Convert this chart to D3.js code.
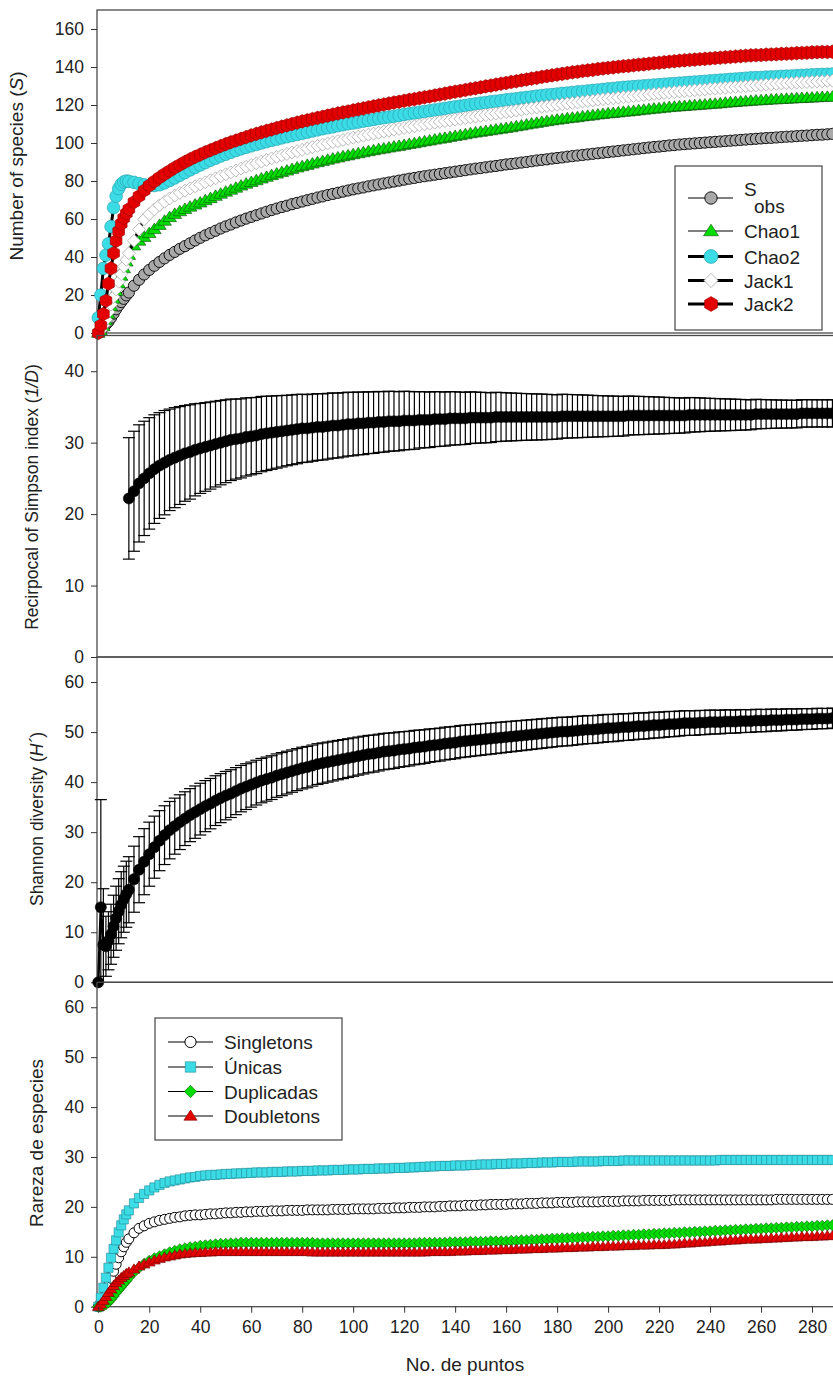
<!DOCTYPE html>
<html lang="es">
<head>
  <meta charset="UTF-8">
  <title>Curvas de acumulación y rareza de especies</title>
  <script src="https://d3js.org/d3.v7.min.js"></script>
  <style>
    body {
      margin: 0;
      background: #ffffff;
    }

    svg {
      display: block;
      font-family: 'Liberation Sans', Arial, sans-serif;
    }
  </style>
</head>
<body>
  <svg id="chart" width="833" height="1380"></svg>

  <script>
    // sample number (x) shared by every series
    const samples = [0, 1, 2, 3, 4, 5, 6, 7, 8, 9, 10, 11, 12,
      14, 16, 18, 20, 22, 24, 26, 28, 30, 32,
      34, 36, 38, 40, 42, 44, 46, 48, 50, 52,
      54, 56, 58, 60, 62, 64, 66, 68, 70, 72,
      74, 76, 78, 80, 82, 84, 86, 88, 90, 92,
      94, 96, 98, 100, 102, 104, 106, 108, 110, 112,
      114, 116, 118, 120, 122, 124, 126, 128, 130, 132,
      134, 136, 138, 140, 142, 144, 146, 148, 150, 152,
      154, 156, 158, 160, 162, 164, 166, 168, 170, 172,
      174, 176, 178, 180, 182, 184, 186, 188, 190, 192,
      194, 196, 198, 200, 202, 204, 206, 208, 210, 212,
      214, 216, 218, 220, 222, 224, 226, 228, 230, 232,
      234, 236, 238, 240, 242, 244, 246, 248, 250, 252,
      254, 256, 258, 260, 262, 264, 266, 268, 270, 272,
      274, 276, 278, 280, 282, 284, 286, 288];

    // panel 1: richness estimators
    const sObs = [0, 1.5, 3, 4.5, 6, 8, 10.2, 12.5, 14.5, 16.3, 18, 19.8, 21.3,
      24.9, 28, 30.8, 33.2, 35.4, 37.4, 39.3, 41.1, 42.7, 44.3,
      45.7, 47.2, 48.7, 50.1, 51.4, 52.6, 53.8, 55, 56.1, 57.1,
      58.2, 59.2, 60.2, 61.1, 62, 62.9, 63.8, 64.7, 65.5, 66.3,
      67, 67.8, 68.5, 69.2, 69.9, 70.6, 71.3, 71.9, 72.6, 73.2,
      73.8, 74.4, 75, 75.6, 76.1, 76.6, 77.2, 77.7, 78.2, 78.7,
      79.2, 79.7, 80.2, 80.7, 81.2, 81.6, 82.1, 82.5, 82.9, 83.3,
      83.7, 84.1, 84.5, 84.9, 85.3, 85.7, 86.1, 86.5, 86.8, 87.2,
      87.6, 87.9, 88.3, 88.7, 89, 89.3, 89.7, 90, 90.4, 90.8,
      91.1, 91.4, 91.8, 92.1, 92.4, 92.8, 93.1, 93.4, 93.7, 94,
      94.3, 94.6, 94.9, 95.2, 95.5, 95.8, 96.1, 96.4, 96.7, 97,
      97.3, 97.6, 97.9, 98.1, 98.4, 98.7, 98.9, 99.2, 99.4, 99.6,
      99.8, 100, 100.2, 100.4, 100.6, 100.8, 101, 101.2, 101.4, 101.6,
      101.8, 102, 102.2, 102.4, 102.6, 102.7, 102.9, 103.1, 103.3, 103.4,
      103.6, 103.8, 103.9, 104.1, 104.3, 104.4, 104.6, 104.8];
    const chao1 = [0, 1, 3.5, 6.5, 10, 14, 18, 22, 26, 30, 34, 37.5, 41,
      46, 48.5, 50.5, 52.5, 54.6, 56.8, 59, 60.9, 62.6, 64,
      65.2, 66.4, 67.5, 68.6, 69.8, 70.9, 72.1, 73.2, 74.3, 75.3,
      76.4, 77.5, 78.5, 79.4, 80.3, 81.2, 82.1, 83, 83.8, 84.6,
      85.4, 86.2, 87, 87.7, 88.4, 89.1, 89.8, 90.4, 91.1, 91.7,
      92.3, 92.9, 93.4, 94, 94.5, 95, 95.6, 96.1, 96.6, 97,
      97.5, 98, 98.4, 98.9, 99.4, 99.8, 100.3, 100.8, 101.2, 101.7,
      102.2, 102.6, 103.1, 103.6, 104, 104.5, 105, 105.4, 105.8, 106.2,
      106.6, 107, 107.4, 107.8, 108.2, 108.7, 109.1, 109.6, 110.1, 110.5,
      111, 111.4, 111.8, 112.2, 112.5, 112.9, 113.2, 113.5, 113.9, 114.2,
      114.5, 114.9, 115.2, 115.5, 115.7, 116, 116.3, 116.5, 116.8, 117.1,
      117.4, 117.7, 118, 118.2, 118.5, 118.8, 119, 119.2, 119.4, 119.6,
      119.8, 120, 120.2, 120.4, 120.6, 120.8, 121.1, 121.3, 121.5, 121.7,
      121.9, 122.1, 122.3, 122.4, 122.6, 122.8, 122.9, 123.1, 123.2, 123.3,
      123.5, 123.6, 123.7, 123.8, 124, 124.1, 124.2, 124.3];
    const chao2 = [8, 20, 34, 41, 47, 56, 66, 72, 76, 78.3, 79.5, 80, 79.8,
      79.3, 78.6, 78, 77.7, 77.6, 78, 79, 80.3, 81.6, 83,
      84.4, 85.8, 87.1, 88.4, 89.7, 90.9, 92, 93.1, 94.1, 95.1,
      96, 96.9, 97.7, 98.5, 99.2, 100, 100.7, 101.4, 102, 102.7,
      103.3, 103.9, 104.5, 105.1, 105.7, 106.3, 106.9, 107.5, 108, 108.5,
      109.1, 109.6, 110.1, 110.5, 111, 111.5, 111.9, 112.4, 112.9, 113.3,
      113.7, 114.1, 114.5, 115, 115.4, 115.8, 116.2, 116.6, 117, 117.4,
      117.8, 118.2, 118.6, 119, 119.4, 119.8, 120.2, 120.6, 121, 121.3,
      121.7, 122, 122.3, 122.7, 123, 123.3, 123.7, 124, 124.3, 124.7,
      125, 125.3, 125.5, 125.8, 126.1, 126.3, 126.6, 126.9, 127.1, 127.4,
      127.7, 127.9, 128.2, 128.5, 128.7, 129, 129.3, 129.5, 129.7, 129.9,
      130.1, 130.3, 130.5, 130.7, 130.9, 131.1, 131.3, 131.5, 131.7, 131.9,
      132.1, 132.3, 132.5, 132.7, 132.9, 133.1, 133.3, 133.5, 133.7, 133.9,
      134.1, 134.3, 134.4, 134.5, 134.7, 134.8, 134.9, 135.1, 135.2, 135.3,
      135.5, 135.6, 135.7, 135.9, 136, 136.1, 136.2, 136.3];
    const jack1 = [0, 1.5, 4, 7, 11, 15, 19, 23, 27, 31, 35, 38.5, 42,
      48.5, 54.5, 59.8, 62.6, 65, 67.2, 69.1, 70.8, 72.3, 73.7,
      74.9, 76.1, 77.2, 78.2, 79.3, 80.4, 81.4, 82.5, 83.5, 84.5,
      85.5, 86.5, 87.5, 88.4, 89.3, 90.2, 91.1, 91.9, 92.7, 93.5,
      94.2, 95, 95.7, 96.4, 97.1, 97.8, 98.5, 99.1, 99.8, 100.4,
      101, 101.6, 102.2, 102.8, 103.3, 103.8, 104.4, 104.9, 105.4, 106,
      106.5, 107, 107.4, 107.9, 108.4, 108.8, 109.3, 109.8, 110.2, 110.7,
      111.1, 111.5, 111.9, 112.3, 112.7, 113.1, 113.5, 113.9, 114.3, 114.7,
      115.1, 115.5, 115.9, 116.3, 116.7, 117.1, 117.5, 117.9, 118.3, 118.7,
      119.1, 119.4, 119.8, 120.1, 120.4, 120.8, 121.1, 121.4, 121.8, 122.1,
      122.4, 122.8, 123.1, 123.4, 123.6, 123.9, 124.2, 124.4, 124.7, 125,
      125.2, 125.5, 125.8, 126, 126.3, 126.6, 126.8, 127.1, 127.3, 127.5,
      127.8, 128, 128.2, 128.5, 128.7, 128.9, 129.1, 129.3, 129.5, 129.7,
      129.9, 130.1, 130.3, 130.5, 130.7, 130.9, 131.1, 131.3, 131.4, 131.6,
      131.8, 131.9, 132.1, 132.2, 132.4, 132.5, 132.7, 132.8];
    const jack2 = [0, 4, 10, 17, 26, 34, 42, 48.5, 53.5, 57.5, 60.5, 63, 65.2,
      68.9, 72, 75, 77.6, 79.8, 81.8, 83.6, 85.3, 87, 88.5,
      90, 91.4, 92.7, 93.9, 95.1, 96.2, 97.3, 98.4, 99.4, 100.4,
      101.3, 102.2, 103.1, 104, 104.8, 105.6, 106.4, 107.1, 107.9, 108.6,
      109.3, 110, 110.7, 111.4, 112, 112.6, 113.2, 113.8, 114.4, 115,
      115.6, 116.1, 116.6, 117.2, 117.7, 118.2, 118.8, 119.3, 119.8, 120.3,
      120.8, 121.3, 121.7, 122.2, 122.7, 123.1, 123.6, 124.1, 124.5, 125,
      125.5, 126, 126.5, 127, 127.4, 127.9, 128.4, 128.8, 129.3, 129.8,
      130.2, 130.7, 131.2, 131.6, 132.1, 132.5, 133, 133.4, 133.9, 134.3,
      134.8, 135.2, 135.6, 136, 136.4, 136.8, 137.2, 137.5, 137.9, 138.2,
      138.5, 138.9, 139.2, 139.5, 139.8, 140.1, 140.4, 140.6, 140.9, 141.2,
      141.4, 141.7, 142, 142.2, 142.5, 142.8, 143, 143.3, 143.5, 143.7,
      143.9, 144.1, 144.3, 144.5, 144.7, 144.9, 145.1, 145.3, 145.5, 145.7,
      145.9, 146.1, 146.2, 146.3, 146.5, 146.6, 146.7, 146.9, 147, 147.1,
      147.3, 147.4, 147.5, 147.7, 147.8, 147.9, 147.9, 148];

    // panel 2: reciprocal of Simpson (mean and SD)
    const simpsonMean = [null, null, null, null, null, null, null, null, null, null, null, null, 22.2,
      23.2, 24.3, 25, 25.7, 26.3, 26.8, 27.2, 27.6, 27.9, 28.2,
      28.5, 28.7, 29, 29.2, 29.4, 29.6, 29.8, 30, 30.2, 30.4,
      30.5, 30.6, 30.8, 30.9, 31, 31.2, 31.3, 31.4, 31.5, 31.6,
      31.7, 31.8, 31.9, 32, 32, 32.1, 32.2, 32.2, 32.3, 32.4,
      32.4, 32.5, 32.6, 32.6, 32.7, 32.7, 32.8, 32.8, 32.9, 32.9,
      33, 33, 33, 33.1, 33.1, 33.1, 33.2, 33.2, 33.2, 33.3,
      33.3, 33.3, 33.4, 33.4, 33.4, 33.4, 33.5, 33.5, 33.5, 33.5,
      33.5, 33.6, 33.6, 33.6, 33.6, 33.6, 33.6, 33.6, 33.6, 33.6,
      33.6, 33.6, 33.6, 33.6, 33.7, 33.7, 33.7, 33.7, 33.7, 33.7,
      33.7, 33.7, 33.7, 33.7, 33.7, 33.7, 33.7, 33.8, 33.8, 33.8,
      33.8, 33.8, 33.8, 33.8, 33.8, 33.8, 33.8, 33.8, 33.8, 33.9,
      33.9, 33.9, 33.9, 33.9, 33.9, 33.9, 33.9, 33.9, 33.9, 33.9,
      33.9, 33.9, 34, 34, 34, 34, 34, 34, 34, 34,
      34, 34.1, 34.1, 34.1, 34.1, 34.1, 34.1, 34.1];
    const simpsonSd = [null, null, null, null, null, null, null, null, null, null, null, null, 8.5,
      8.4, 8.2, 8, 7.8, 7.6, 7.4, 7.3, 7.1, 7, 6.85,
      6.7, 6.6, 6.45, 6.3, 6.2, 6.1, 6, 5.9, 5.8, 5.7,
      5.6, 5.53, 5.47, 5.4, 5.33, 5.27, 5.2, 5.13, 5.07, 5,
      4.93, 4.88, 4.85, 4.78, 4.73, 4.7, 4.67, 4.63, 4.6, 4.57,
      4.53, 4.5, 4.47, 4.43, 4.4, 4.37, 4.33, 4.3, 4.27, 4.23,
      4.2, 4.17, 4.13, 4.1, 4.07, 4.02, 3.95, 3.92, 3.88, 3.85,
      3.82, 3.78, 3.75, 3.72, 3.68, 3.65, 3.62, 3.58, 3.55, 3.52,
      3.48, 3.45, 3.42, 3.38, 3.35, 3.32, 3.29, 3.27, 3.24, 3.22,
      3.2, 3.17, 3.13, 3.1, 3.08, 3.05, 3.03, 3.01, 2.98, 2.95,
      2.92, 2.89, 2.87, 2.84, 2.82, 2.8, 2.77, 2.73, 2.7, 2.68,
      2.66, 2.63, 2.61, 2.58, 2.55, 2.52, 2.49, 2.47, 2.44, 2.42,
      2.4, 2.37, 2.33, 2.3, 2.28, 2.25, 2.23, 2.21, 2.18, 2.15,
      2.12, 2.09, 2.07, 2.04, 2.02, 2, 1.98, 1.96, 1.95, 1.94,
      1.93, 1.92, 1.91, 1.91, 1.9, 1.9, 1.9, 1.9];

    // panel 3: Shannon diversity (mean and SD)
    const shannonMean = [0, 15, 7.5, 7.2, 8.3, 9.6, 11.2, 12.8, 14.2, 15.5, 16.6, 17.6, 18.5,
      20.6, 22.5, 24.1, 25.6, 27, 28.3, 29.4, 30.4, 31.2, 32,
      32.7, 33.4, 34, 34.6, 35.2, 35.7, 36.3, 36.8, 37.3, 37.7,
      38.2, 38.7, 39.1, 39.5, 39.9, 40.3, 40.6, 40.9, 41.3, 41.6,
      41.9, 42.2, 42.5, 42.8, 43, 43.3, 43.6, 43.8, 44, 44.2,
      44.4, 44.6, 44.8, 45, 45.2, 45.4, 45.6, 45.7, 45.9, 46.1,
      46.2, 46.3, 46.5, 46.6, 46.7, 46.9, 47, 47.1, 47.3, 47.4,
      47.5, 47.7, 47.8, 47.9, 48.1, 48.2, 48.3, 48.4, 48.5, 48.6,
      48.7, 48.8, 48.9, 49, 49.1, 49.2, 49.3, 49.4, 49.5, 49.6,
      49.7, 49.8, 49.9, 50, 50.1, 50.1, 50.2, 50.3, 50.4, 50.5,
      50.5, 50.6, 50.7, 50.8, 50.8, 50.9, 51, 51, 51.1, 51.2,
      51.2, 51.3, 51.4, 51.4, 51.5, 51.6, 51.6, 51.7, 51.8, 51.8,
      51.8, 51.9, 51.9, 52, 52, 52, 52.1, 52.1, 52.1, 52.2,
      52.2, 52.2, 52.3, 52.3, 52.3, 52.4, 52.4, 52.4, 52.5, 52.5,
      52.5, 52.6, 52.6, 52.6, 52.7, 52.7, 52.7, 52.8];
    const shannonSd = [0, 21.5, 11.2, 6, 5.8, 6, 6.2, 6.4, 6.5, 6.6, 6.6, 6.6, 6.6,
      6.6, 6.6, 6.6, 6.4, 6.2, 6, 5.87, 5.73, 5.6, 5.47,
      5.37, 5.3, 5.23, 5.17, 5.1, 5.03, 4.97, 4.9, 4.83, 4.77,
      4.7, 4.63, 4.57, 4.5, 4.47, 4.43, 4.4, 4.37, 4.33, 4.3,
      4.27, 4.23, 4.2, 4.17, 4.13, 4.1, 4.07, 4.03, 4, 3.97,
      3.93, 3.9, 3.87, 3.83, 3.8, 3.77, 3.73, 3.7, 3.67, 3.63,
      3.6, 3.57, 3.53, 3.5, 3.47, 3.43, 3.4, 3.37, 3.33, 3.3,
      3.29, 3.27, 3.25, 3.23, 3.21, 3.2, 3.18, 3.16, 3.15, 3.13,
      3.11, 3.1, 3.08, 3.06, 3.05, 3.03, 3.01, 3, 2.98, 2.96,
      2.95, 2.93, 2.91, 2.9, 2.88, 2.86, 2.85, 2.83, 2.81, 2.8,
      2.78, 2.76, 2.75, 2.73, 2.71, 2.7, 2.68, 2.66, 2.65, 2.63,
      2.61, 2.6, 2.58, 2.56, 2.55, 2.53, 2.51, 2.5, 2.48, 2.46,
      2.45, 2.43, 2.41, 2.4, 2.38, 2.36, 2.35, 2.33, 2.31, 2.3,
      2.28, 2.26, 2.25, 2.23, 2.21, 2.2, 2.18, 2.16, 2.15, 2.13,
      2.11, 2.1, 2.08, 2.06, 2.05, 2.03, 2.01, 2];

    // panel 4: rare species
    const singletons = [0, 0.8, 1.8, 3, 4.3, 5.7, 7.1, 8.5, 9.8, 11, 12, 12.9, 13.6,
      14.8, 15.7, 16.2, 16.7, 17, 17.3, 17.5, 17.7, 17.9, 18,
      18.2, 18.3, 18.4, 18.4, 18.5, 18.6, 18.6, 18.7, 18.8, 18.8,
      18.9, 18.9, 19, 19, 19.1, 19.1, 19.1, 19.2, 19.2, 19.2,
      19.3, 19.3, 19.3, 19.3, 19.4, 19.4, 19.4, 19.4, 19.4, 19.5,
      19.5, 19.5, 19.5, 19.6, 19.6, 19.6, 19.6, 19.6, 19.7, 19.7,
      19.7, 19.8, 19.8, 19.8, 19.9, 19.9, 19.9, 20, 20, 20,
      20.1, 20.1, 20.2, 20.2, 20.2, 20.3, 20.3, 20.3, 20.4, 20.4,
      20.5, 20.5, 20.5, 20.5, 20.6, 20.6, 20.6, 20.7, 20.7, 20.7,
      20.8, 20.8, 20.8, 20.9, 20.9, 20.9, 20.9, 21, 21, 21,
      21, 21, 21.1, 21.1, 21.1, 21.1, 21.2, 21.2, 21.2, 21.2,
      21.3, 21.3, 21.3, 21.3, 21.3, 21.3, 21.4, 21.4, 21.4, 21.4,
      21.4, 21.4, 21.4, 21.4, 21.4, 21.4, 21.4, 21.4, 21.4, 21.4,
      21.4, 21.4, 21.4, 21.4, 21.4, 21.4, 21.5, 21.5, 21.5, 21.5,
      21.5, 21.5, 21.5, 21.5, 21.5, 21.5, 21.5, 21.5];
    const unicas = [0, 1.8, 3.8, 5.8, 7.8, 9.8, 11.6, 13.3, 14.9, 16.3, 17.5, 18.5, 19.3,
      20.7, 21.8, 22.6, 23.3, 23.9, 24.4, 24.8, 25.1, 25.3, 25.5,
      25.7, 25.9, 26, 26.2, 26.3, 26.4, 26.4, 26.5, 26.6, 26.6,
      26.7, 26.7, 26.8, 26.8, 26.9, 26.9, 26.9, 27, 27, 27,
      27.1, 27.1, 27.1, 27.2, 27.2, 27.2, 27.3, 27.3, 27.3, 27.4,
      27.4, 27.4, 27.5, 27.5, 27.5, 27.6, 27.6, 27.6, 27.7, 27.7,
      27.7, 27.8, 27.8, 27.8, 27.9, 27.9, 28, 28, 28.1, 28.1,
      28.2, 28.2, 28.2, 28.3, 28.3, 28.3, 28.4, 28.4, 28.5, 28.5,
      28.5, 28.6, 28.6, 28.6, 28.7, 28.7, 28.7, 28.8, 28.8, 28.8,
      28.9, 28.9, 28.9, 29, 29, 29, 29, 29.1, 29.1, 29.1,
      29.1, 29.1, 29.2, 29.2, 29.2, 29.2, 29.3, 29.3, 29.3, 29.3,
      29.3, 29.3, 29.3, 29.3, 29.3, 29.3, 29.3, 29.3, 29.3, 29.3,
      29.3, 29.3, 29.3, 29.3, 29.3, 29.4, 29.4, 29.4, 29.4, 29.4,
      29.4, 29.4, 29.4, 29.4, 29.4, 29.4, 29.4, 29.4, 29.4, 29.4,
      29.4, 29.4, 29.4, 29.4, 29.4, 29.4, 29.4, 29.4];
    const duplicadas = [0, 0, 0.2, 0.5, 0.9, 1.5, 2.1, 2.8, 3.4, 4, 4.6, 5.2, 5.8,
      6.9, 7.8, 8.6, 9.2, 9.7, 10.1, 10.5, 10.9, 11.2, 11.5,
      11.7, 11.9, 12, 12.2, 12.3, 12.4, 12.5, 12.6, 12.6, 12.7,
      12.7, 12.8, 12.8, 12.8, 12.8, 12.8, 12.8, 12.8, 12.8, 12.8,
      12.8, 12.8, 12.8, 12.8, 12.8, 12.8, 12.7, 12.7, 12.7, 12.7,
      12.7, 12.7, 12.7, 12.7, 12.7, 12.7, 12.7, 12.7, 12.7, 12.7,
      12.7, 12.7, 12.7, 12.7, 12.7, 12.7, 12.8, 12.8, 12.8, 12.8,
      12.8, 12.8, 12.9, 12.9, 12.9, 12.9, 13, 13, 13, 13,
      13.1, 13.1, 13.1, 13.1, 13.2, 13.2, 13.3, 13.3, 13.4, 13.4,
      13.5, 13.5, 13.6, 13.6, 13.7, 13.7, 13.8, 13.8, 13.9, 13.9,
      14, 14, 14.1, 14.1, 14.2, 14.2, 14.3, 14.3, 14.4, 14.4,
      14.5, 14.5, 14.6, 14.6, 14.7, 14.7, 14.8, 14.8, 14.9, 14.9,
      15, 15, 15.1, 15.1, 15.2, 15.2, 15.3, 15.3, 15.4, 15.4,
      15.5, 15.5, 15.6, 15.6, 15.7, 15.7, 15.8, 15.8, 15.9, 15.9,
      16, 16, 16.1, 16.1, 16.2, 16.2, 16.3, 16.3];
    const doubletons = [0, 0.5, 1.2, 2, 2.8, 3.5, 4.2, 4.8, 5.3, 5.8, 6.2, 6.6, 6.9,
      7.5, 8.1, 8.5, 8.9, 9.3, 9.6, 9.9, 10.1, 10.3, 10.5,
      10.6, 10.7, 10.8, 10.8, 10.9, 10.9, 11, 11, 11, 11,
      11, 11, 11, 11, 11, 11, 11, 11, 11, 11,
      11, 11, 11, 11, 11, 10.9, 10.9, 10.9, 10.9, 10.9,
      10.9, 10.9, 10.9, 10.9, 10.9, 10.9, 10.9, 10.9, 10.9, 10.9,
      10.9, 10.9, 10.9, 10.9, 10.9, 10.9, 10.9, 10.9, 11, 11,
      11, 11, 11, 11.1, 11.1, 11.1, 11.2, 11.2, 11.2, 11.3,
      11.3, 11.3, 11.4, 11.4, 11.4, 11.5, 11.5, 11.5, 11.6, 11.6,
      11.6, 11.7, 11.7, 11.7, 11.8, 11.8, 11.8, 11.9, 11.9, 11.9,
      12, 12, 12, 12.1, 12.1, 12.1, 12.2, 12.2, 12.2, 12.3,
      12.3, 12.3, 12.4, 12.4, 12.4, 12.5, 12.5, 12.6, 12.7, 12.7,
      12.8, 12.9, 12.9, 13, 13.1, 13.1, 13.2, 13.3, 13.3, 13.4,
      13.5, 13.5, 13.5, 13.6, 13.6, 13.7, 13.7, 13.8, 13.8, 13.9,
      13.9, 14, 14, 14, 14.1, 14.1, 14.2, 14.2];

    // tick labels
    const xTickValues = [0, 20, 40, 60, 80, 100, 120, 140, 160, 180, 200, 220, 240, 260, 280];
    const speciesTicks = [0, 20, 40, 60, 80, 100, 120, 140, 160];
    const simpsonTicks = [0, 10, 20, 30, 40];
    const shannonTicks = [0, 10, 20, 30, 40, 50, 60];
    const rarezaTicks = [0, 10, 20, 30, 40, 50, 60];

    const estimatorLabels = ["S", "Chao1", "Chao2", "Jack1", "Jack2"];
    const rarezaLabels = ["Singletons", "Únicas", "Duplicadas", "Doubletons"];

    const svg = d3.select("#chart");
    const x = d3.scaleLinear().domain([-0.5, 300]).range([97, 863]);
    const plotLeft = 97, plotRight = 863;

    const shapes = {
      circle: r => d3.symbol(d3.symbolCircle, Math.PI * r * r)(),
      square: r => `M${-r},${-r}h${2 * r}v${2 * r}h${-2 * r}Z`,
      diamond: r => `M0,${-r}L${r},0L0,${r}L${-r},0Z`,
      triangle: r => `M0,${-r}L${r * 1.1},${r * 0.7}L${-r * 1.1},${r * 0.7}Z`,
      hexagon: r => "M" + d3.range(6).map(i => [r * Math.sin(i * Math.PI / 3), -r * Math.cos(i * Math.PI / 3)]).join("L") + "Z"
    };

    function makePanel(top, bottom, domain, ticks) {
      const y = d3.scaleLinear().domain(domain).range([bottom, top]).clamp(true);
      const g = svg.append("g");

      g.append("rect")
        .attr("x", plotLeft).attr("y", top)
        .attr("width", plotRight - plotLeft).attr("height", bottom - top)
        .attr("fill", "none").attr("stroke", "#4a4a4a").attr("stroke-width", 1.3);

      g.append("g")
        .attr("transform", `translate(${plotLeft},0)`)
        .call(d3.axisLeft(y).tickValues(ticks).tickSize(6).tickPadding(7))
        .call(a => a.select(".domain").remove())
        .call(a => a.selectAll("line").attr("stroke", "#333"))
        .call(a => a.selectAll("text")
          .attr("fill", "#222")
          .style("font-size", "17.5px")
          .style("font-family", "'Liberation Sans', Arial, sans-serif"));

      return { g, y };
    }

    function drawSeries(panel, values, st) {
      const pts = samples.map((s, i) => [s, values[i]]).filter(d => d[1] != null);
      const g = panel.g.append("g");
      g.append("path")
        .datum(pts)
        .attr("fill", "none")
        .attr("stroke", "#000")
        .attr("stroke-width", st.lineWidth)
        .attr("d", d3.line().x(d => x(d[0])).y(d => panel.y(d[1])));
      g.append("g")
        .selectAll("path")
        .data(pts)
        .join("path")
        .attr("transform", d => `translate(${x(d[0])},${panel.y(d[1])})`)
        .attr("d", shapes[st.shape](st.r))
        .attr("fill", st.fill)
        .attr("stroke", st.stroke)
        .attr("stroke-width", st.sw);
    }

    function drawErrorBars(panel, mean, sd) {
      const pts = samples.map((s, i) => ({ s, m: mean[i], sd: sd[i] }))
        .filter(d => d.m != null && d.sd > 0);
      const y = panel.y;
      const g = panel.g.append("g").attr("stroke", "#000").attr("stroke-width", 1.2);
      g.selectAll("line.bar")
        .data(pts)
        .join("line")
        .attr("class", "bar")
        .attr("x1", d => x(d.s)).attr("x2", d => x(d.s))
        .attr("y1", d => y(d.m + d.sd)).attr("y2", d => y(d.m - d.sd));
      g.selectAll("line.capTop")
        .data(pts)
        .join("line")
        .attr("class", "capTop")
        .attr("x1", d => x(d.s) - 6).attr("x2", d => x(d.s) + 6)
        .attr("y1", d => y(d.m + d.sd)).attr("y2", d => y(d.m + d.sd));
      g.selectAll("line.capBottom")
        .data(pts.filter(d => d.m - d.sd > 0))
        .join("line")
        .attr("class", "capBottom")
        .attr("x1", d => x(d.s) - 6).attr("x2", d => x(d.s) + 6)
        .attr("y1", d => y(d.m - d.sd)).attr("y2", d => y(d.m - d.sd));
    }

    function yTitle(px, py, size, parts) {
      const t = svg.append("text")
        .attr("transform", `translate(${px},${py}) rotate(-90)`)
        .attr("text-anchor", "middle")
        .attr("fill", "#222")
        .style("font-size", size + "px");
      parts.forEach(p => t.append("tspan").text(p[0]).style("font-style", p[1] ? "italic" : "normal"));
    }

    // styles
    const stSobs = { shape: "circle", r: 5.6, fill: "#a8a8a8", stroke: "#000", sw: 0.9, lineWidth: 1 };
    const stChao1 = { shape: "triangle", r: 6.2, fill: "#00dc00", stroke: "#0b4d0b", sw: 0.6, lineWidth: 1 };
    const stChao2 = { shape: "circle", r: 6.3, fill: "#3cdce6", stroke: "#2aa6b2", sw: 0.7, lineWidth: 3 };
    const stJack1 = { shape: "diamond", r: 6.5, fill: "#ffffff", stroke: "#a8a8a8", sw: 0.8, lineWidth: 3 };
    const stJack2 = { shape: "hexagon", r: 6.8, fill: "#e30000", stroke: "#9a0000", sw: 0.6, lineWidth: 3 };
    const stMean = { shape: "circle", r: 5.6, fill: "#000", stroke: "#000", sw: 0.5, lineWidth: 2.5 };
    const stSingle = { shape: "circle", r: 5, fill: "#ffffff", stroke: "#000", sw: 1, lineWidth: 1 };
    const stUnicas = { shape: "square", r: 4.6, fill: "#3cdce6", stroke: "#1f8a96", sw: 0.6, lineWidth: 1 };
    const stDupl = { shape: "diamond", r: 5.6, fill: "#00dc00", stroke: "#0b5a0b", sw: 0.6, lineWidth: 1 };
    const stDoub = { shape: "triangle", r: 5.4, fill: "#e30000", stroke: "#7a0000", sw: 0.6, lineWidth: 1 };

    // panel 1
    const p1 = makePanel(10, 333, [0, 170], speciesTicks);
    drawSeries(p1, sObs, stSobs);
    drawSeries(p1, chao1, stChao1);
    drawSeries(p1, chao2, stChao2);
    drawSeries(p1, jack1, stJack1);
    drawSeries(p1, jack2, stJack2);

    // panel 2
    const p2 = makePanel(335.5, 657, [0, 45], simpsonTicks);
    drawErrorBars(p2, simpsonMean, simpsonSd);
    drawSeries(p2, simpsonMean, stMean);

    // panel 3
    const p3 = makePanel(657, 982.3, [0, 65], shannonTicks);
    drawErrorBars(p3, shannonMean, shannonSd);
    drawSeries(p3, shannonMean, stMean);

    // panel 4
    const p4 = makePanel(982.3, 1306.7, [0, 65], rarezaTicks);
    drawSeries(p4, singletons, stSingle);
    drawSeries(p4, unicas, stUnicas);
    drawSeries(p4, duplicadas, stDupl);
    drawSeries(p4, doubletons, stDoub);

    // x axis
    svg.append("g")
      .attr("transform", "translate(0,1306.7)")
      .call(d3.axisBottom(x).tickValues(xTickValues).tickSize(6).tickPadding(8))
      .call(a => a.select(".domain").remove())
      .call(a => a.selectAll("line").attr("stroke", "#333"))
      .call(a => a.selectAll("text")
        .attr("fill", "#222")
        .style("font-size", "17.5px")
        .style("font-family", "'Liberation Sans', Arial, sans-serif"));

    svg.append("text")
      .attr("x", 465).attr("y", 1371)
      .attr("text-anchor", "middle")
      .attr("fill", "#222")
      .style("font-size", "19px")
      .text("No. de puntos");

    yTitle(23, 166, 19, [["Number of species ("], ["S", true], [")"]]);
    yTitle(38, 497, 17.5, [["Recirpocal of Simpson index ("], ["1/D", true], [")"]]);
    yTitle(43, 819, 17.5, [["Shannon diversity ("], ["H´", true], [")"]]);
    yTitle(43, 1143, 19, [["Rareza de especies"]]);

    // legends
    function legend(box, rows, lineX, markX, textX) {
      const g = svg.append("g");
      g.append("rect")
        .attr("x", box[0]).attr("y", box[1]).attr("width", box[2]).attr("height", box[3])
        .attr("fill", "#fff").attr("stroke", "#444").attr("stroke-width", 1.2);
      rows.forEach(r => {
        g.append("line")
          .attr("x1", lineX[0]).attr("x2", lineX[1])
          .attr("y1", r.y).attr("y2", r.y)
          .attr("stroke", "#000").attr("stroke-width", r.st.lineWidth);
        g.append("path")
          .attr("transform", `translate(${markX},${r.y})`)
          .attr("d", shapes[r.st.shape](r.st.r + 0.6))
          .attr("fill", r.st.fill).attr("stroke", r.st.stroke).attr("stroke-width", r.st.sw);
        if (r.sub) {
          g.append("text").attr("x", textX).attr("y", r.y - 2).attr("fill", "#222")
            .style("font-size", "19px").text(r.label);
          g.append("text").attr("x", textX + 10).attr("y", r.y + 15).attr("fill", "#222")
            .style("font-size", "19px").text(r.sub);
        } else {
          g.append("text").attr("x", textX).attr("y", r.y + 7).attr("fill", "#222")
            .style("font-size", "19px").text(r.label);
        }
      });
    }

    legend([675, 166, 147, 164], [
      { y: 198, label: estimatorLabels[0], sub: "obs", st: stSobs },
      { y: 231, label: estimatorLabels[1], st: stChao1 },
      { y: 256.5, label: estimatorLabels[2], st: stChao2 },
      { y: 280.5, label: estimatorLabels[3], st: stJack1 },
      { y: 304, label: estimatorLabels[4], st: stJack2 }
    ], [688, 733], 711, 744);

    legend([155, 1018, 187, 122], [
      { y: 1042, label: rarezaLabels[0], st: stSingle },
      { y: 1067, label: rarezaLabels[1], st: stUnicas },
      { y: 1091.5, label: rarezaLabels[2], st: stDupl },
      { y: 1116, label: rarezaLabels[3], st: stDoub }
    ], [168, 213], 190.5, 224);
  </script>
</body>
</html>
